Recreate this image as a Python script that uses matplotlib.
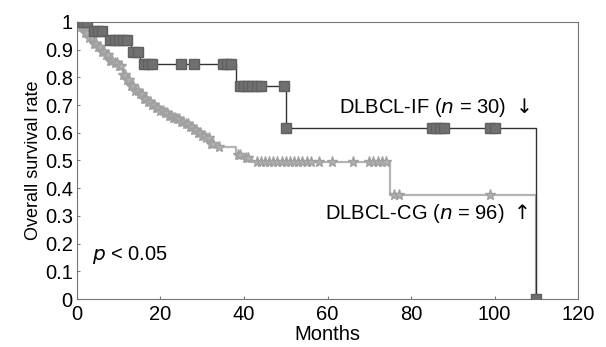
import matplotlib.pyplot as plt

plt.rcParams['font.family'] = ['Liberation Sans', 'DejaVu Sans']

# --- DATA ---------------------------- #
# DLBCL-IF (n = 30): step times / survival
if_times = [0, 3, 7, 13, 15, 38, 50, 110]
if_surv = [1.0, 0.967, 0.933, 0.89, 0.848, 0.77, 0.617, 0.0]
if_cens = [0.5, 1.5, 2.5, 4, 5, 6, 8, 9, 10, 11, 12, 13.5, 14.5, 16, 17, 18,
           25, 28, 35, 36, 37, 39, 40, 41, 42, 43, 44, 49.5, 50, 85, 86, 87,
           88, 99, 100, 110]

# DLBCL-CG (n = 96): step times / survival
cg_times = [0, 1, 2, 3, 4, 5, 6, 7, 8, 9, 10, 11, 12, 13, 14, 15, 16, 17, 18,
            19, 20, 21, 22, 23, 24, 25, 26, 27, 28, 29, 30, 31, 32, 33, 38, 40,
            42, 75, 110]
cg_surv = [1.0, 0.98, 0.96, 0.94, 0.92, 0.91, 0.89, 0.88, 0.86, 0.85, 0.84,
           0.81, 0.79, 0.77, 0.75, 0.74, 0.72, 0.71, 0.70, 0.69, 0.68, 0.67,
           0.66, 0.655, 0.65, 0.64, 0.63, 0.62, 0.61, 0.60, 0.59, 0.58, 0.56,
           0.55, 0.52, 0.51, 0.495, 0.375, 0.0]
cg_cens = [0.5, 1, 1.5, 2, 2.5, 3, 3.5, 4, 4.5, 5, 5.5, 6, 6.5, 7, 7.5, 8,
           8.5, 9, 9.5, 10, 10.5, 11, 11.5, 12, 12.5, 13, 13.5, 14, 14.5, 15,
           15.5, 16, 16.5, 17, 17.5, 18, 18.5, 19, 19.5, 20, 20.5, 21, 21.5,
           22, 22.5, 23, 23.5, 24, 24.5, 25, 25.5, 26, 26.5, 27, 27.5, 28,
           28.5, 29, 29.5, 30, 30.5, 31, 31.5, 32, 32.5, 34, 38.5, 39, 40.5,
           41, 43, 44, 45, 46, 47, 48, 49, 50, 51, 52, 53, 54, 55, 56, 58, 61,
           66, 70, 71, 72, 73, 74, 76, 77, 99, 110]

if_label = "DLBCL-IF ($n$ = 30) $\\downarrow$"
cg_label = "DLBCL-CG ($n$ = 96) $\\uparrow$"
p_label = "$p$ < 0.05"


def surv_at(t, times, surv):
    s = surv[0]
    for ti, si in zip(times, surv):
        if ti <= t:
            s = si
    return s


fig, ax = plt.subplots(figsize=(6.06, 3.47), dpi=100)
fig.subplots_adjust(left=0.127, right=0.954, bottom=0.138, top=0.937)

# --- CG curve ------------------------ #
ax.step(cg_times, cg_surv, where='post', color='#b4b4b4', lw=1.6, zorder=2)
ax.plot(cg_cens, [surv_at(t, cg_times, cg_surv) for t in cg_cens], ls='none',
        marker='*', ms=8, color='#b0b0b0', mec='#a0a0a0', zorder=3)

# --- IF curve ------------------------ #
ax.step(if_times, if_surv, where='post', color='#333333', lw=1.0, zorder=4)
ax.plot(if_cens, [surv_at(t, if_times, if_surv) for t in if_cens], ls='none',
        marker='s', ms=7, color='#707070', mec='#606060', zorder=5)

# --- text ---------------------------- #
fs = 14.5
ax.text(108.5, 0.69, if_label, ha='right', va='center', fontsize=fs)
ax.text(108, 0.307, cg_label, ha='right', va='center', fontsize=fs)
ax.text(3.6, 0.16, p_label, ha='left', va='center', fontsize=fs)

ax.set_xlim(0, 120)
ax.set_ylim(0, 1)
ax.set_xticks(range(0, 121, 20))
ax.set_yticks([i / 10 for i in range(11)])
ax.set_yticklabels(['0', '0.1', '0.2', '0.3', '0.4', '0.5', '0.6', '0.7',
                    '0.8', '0.9', '1'])
ax.tick_params(direction='in', length=2, labelsize=fs, color='#777777')
ax.tick_params(axis='y', pad=3)
ax.tick_params(axis='x', pad=4)
for sp in ax.spines.values():
    sp.set_color('#777777')
    sp.set_linewidth(0.8)
ax.set_xlabel("Months", fontsize=fs, labelpad=1)
ax.set_ylabel("Overall survival rate", fontsize=13, labelpad=2)

fig.savefig("out.png", dpi=100)
